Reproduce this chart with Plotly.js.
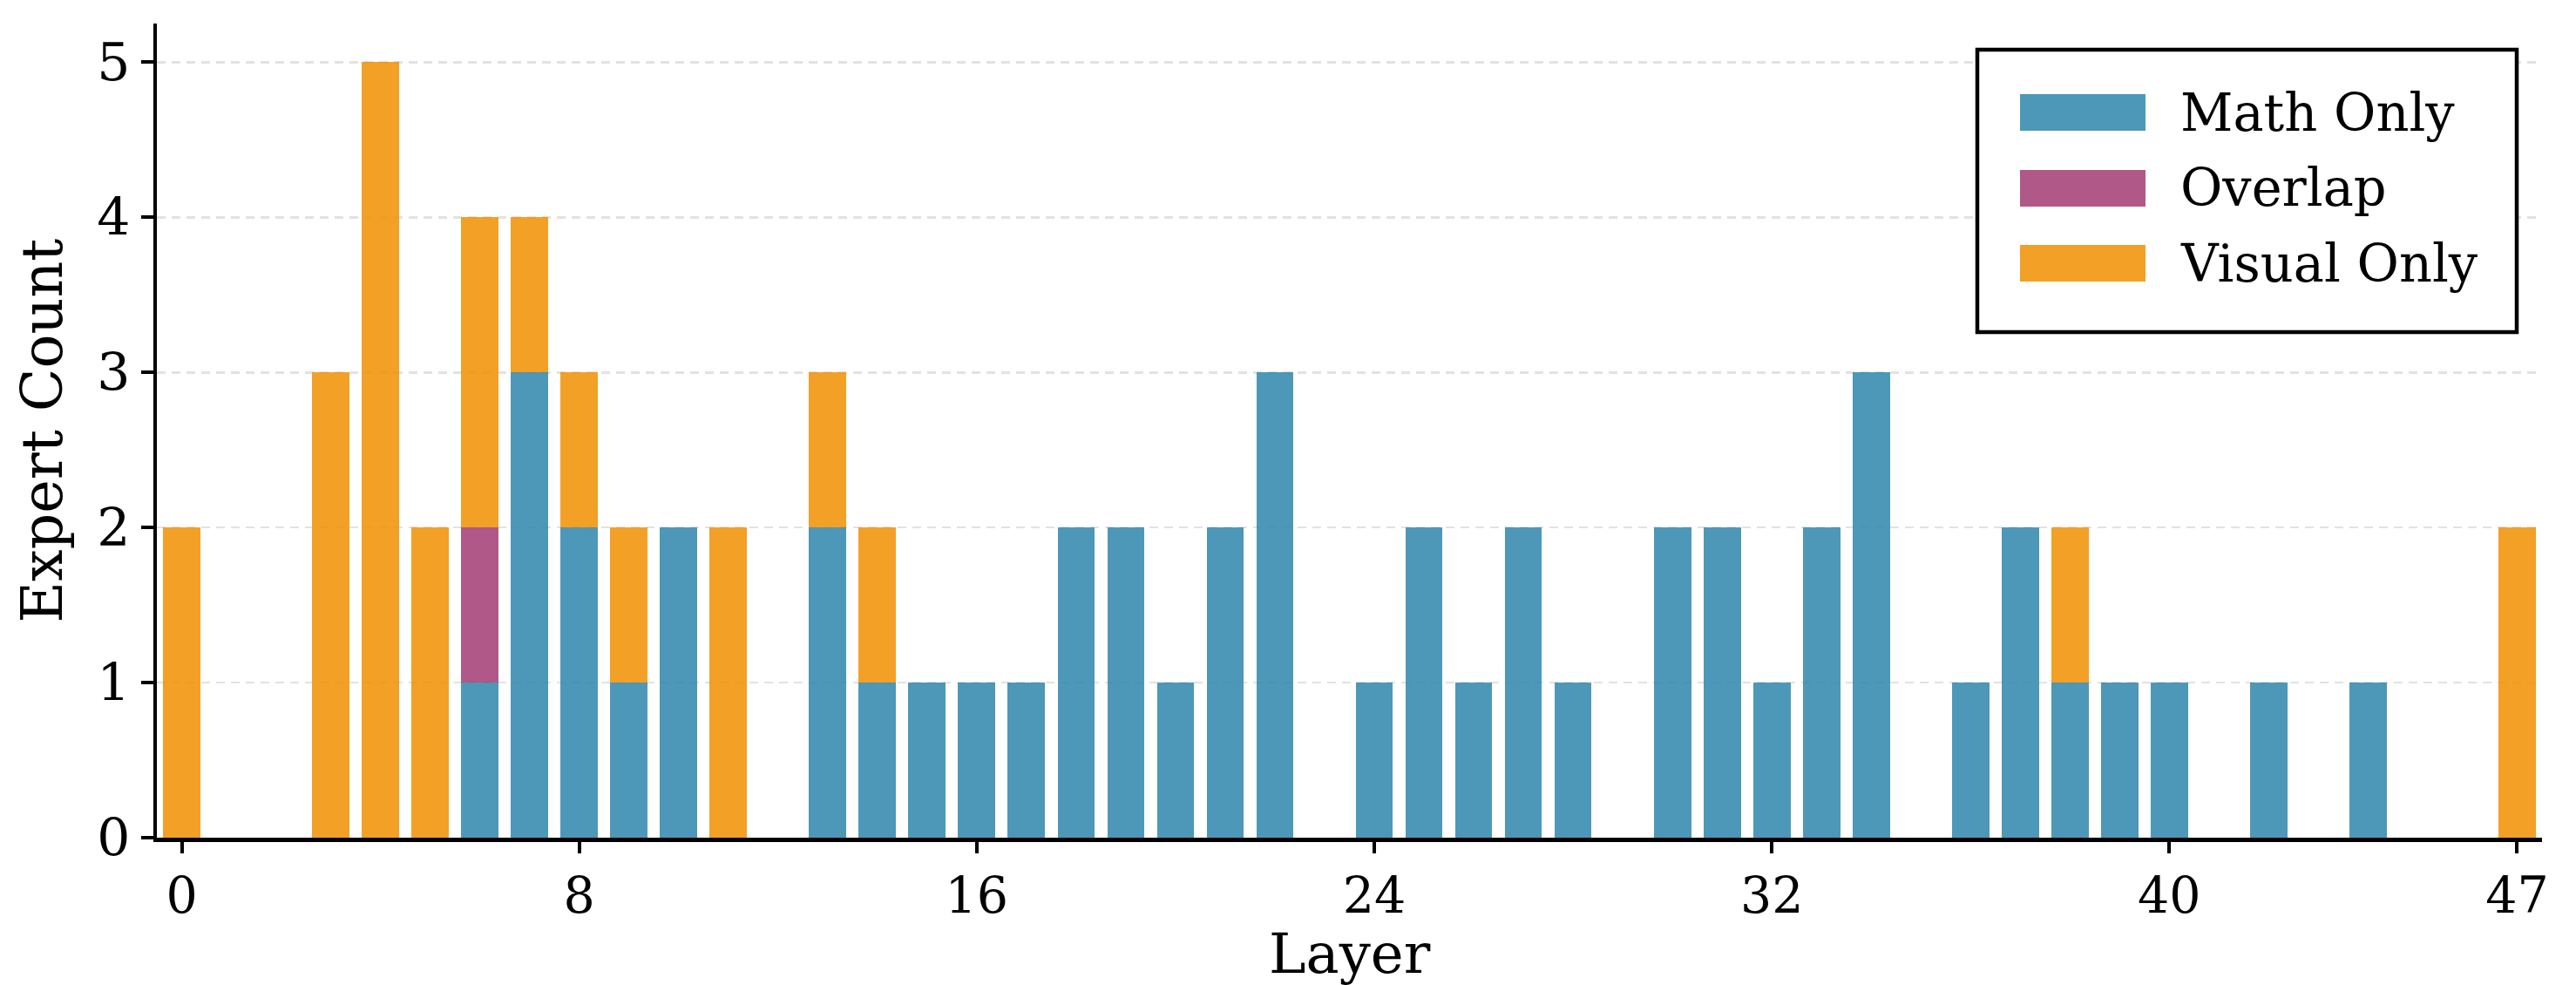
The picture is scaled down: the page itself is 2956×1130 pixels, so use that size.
<!DOCTYPE html>
<html>
<head>
<meta charset="utf-8">
<script src="https://cdn.plot.ly/plotly-3.0.1.min.js"></script>
<style>
  html, body { margin: 0; padding: 0; background: #ffffff; }
  #chart { width: 2956px; height: 1130px; }
</style>
</head>
<body>
<div id="chart"></div>
<script>
// Expert counts per layer (layers 0..47), split by specialisation
const layers = Array.from({length: 48}, (_, i) => i);

const mathOnly = [
  0, 0, 0, 0, 0, 0, 1, 3, 2, 1, 2, 0,
  0, 2, 1, 1, 1, 1, 2, 2, 1, 2, 3, 0,
  1, 2, 1, 2, 1, 0, 2, 2, 1, 2, 3, 0,
  1, 2, 1, 1, 1, 0, 1, 0, 1, 0, 0, 0
];

const overlap = [
  0, 0, 0, 0, 0, 0, 1, 0, 0, 0, 0, 0,
  0, 0, 0, 0, 0, 0, 0, 0, 0, 0, 0, 0,
  0, 0, 0, 0, 0, 0, 0, 0, 0, 0, 0, 0,
  0, 0, 0, 0, 0, 0, 0, 0, 0, 0, 0, 0
];

const visualOnly = [
  2, 0, 0, 3, 5, 2, 2, 1, 1, 1, 0, 2,
  0, 1, 1, 0, 0, 0, 0, 0, 0, 0, 0, 0,
  0, 0, 0, 0, 0, 0, 0, 0, 0, 0, 0, 0,
  0, 0, 1, 0, 0, 0, 0, 0, 0, 0, 0, 2
];

const seriesNames = ['Math Only', 'Overlap', 'Visual Only'];
const seriesColors = ['rgba(46,134,171,0.85)', 'rgba(162,59,114,0.85)', 'rgba(241,143,1,0.85)'];
const xTickVals = [0, 8, 16, 24, 32, 40, 47];
const yTickVals = [0, 1, 2, 3, 4, 5];
const xTitle = 'Layer';
const yTitle = 'Expert Count';

const FONT = 'DejaVu Serif, Liberation Serif, serif';
const W = 2956, H = 1130;
const M = {l: 180, r: 39, t: 27, b: 169};

// pixel -> paper coordinate helpers for the hand-built legend and x title
const px2x = p => (p - M.l) / (W - M.l - M.r);
const py2y = p => (H - M.b - p) / (H - M.t - M.b);

const seriesValues = [mathOnly, overlap, visualOnly];
const traces = seriesValues.map((vals, i) => ({
  type: 'bar',
  name: seriesNames[i],
  x: layers,
  y: vals,
  marker: {color: seriesColors[i], line: {width: 0}},
  showlegend: false,
  hoverinfo: 'x+y+name'
}));

// legend frame, swatches and labels
const legendBox = {x0: 2269, x1: 2888, y0: 57, y1: 381};
const swatchX = [2318, 2462];
const rowTop = [108, 195, 281];
const swatchH = 42;
const textX = 2500;

const shapes = [{
  type: 'rect', xref: 'paper', yref: 'paper', layer: 'above',
  x0: px2x(legendBox.x0), x1: px2x(legendBox.x1),
  y0: py2y(legendBox.y1), y1: py2y(legendBox.y0),
  fillcolor: '#ffffff', line: {color: '#000000', width: 4.5}
}];
const annotations = [];
seriesNames.forEach((name, i) => {
  shapes.push({
    type: 'rect', xref: 'paper', yref: 'paper', layer: 'above',
    x0: px2x(swatchX[0]), x1: px2x(swatchX[1]),
    y0: py2y(rowTop[i] + swatchH), y1: py2y(rowTop[i]),
    fillcolor: seriesColors[i], line: {width: 0}
  });
  annotations.push({
    xref: 'paper', yref: 'paper',
    x: px2x(textX), y: py2y(rowTop[i] + swatchH / 2),
    xanchor: 'left', yanchor: 'middle', showarrow: false,
    text: name, font: {family: FONT, size: 59, color: '#000000'}
  });
});

// x-axis title placed under the tick labels
annotations.push({
  xref: 'paper', yref: 'paper',
  x: 0.5, y: py2y(1094),
  xanchor: 'center', yanchor: 'middle', showarrow: false,
  text: xTitle, font: {family: FONT, size: 64, color: '#000000'}
});

const layout = {
  width: W, height: H,
  margin: M,
  paper_bgcolor: '#ffffff',
  plot_bgcolor: '#ffffff',
  barmode: 'stack',
  bargap: 0.25,
  font: {family: FONT, color: '#000000'},
  xaxis: {
    range: [-0.5, 47.5],
    tickvals: xTickVals,
    ticktext: xTickVals.map(String),
    ticks: 'outside', ticklen: 13, tickwidth: 4, tickcolor: '#000000',
    tickfont: {family: FONT, size: 57, color: '#000000'},
    showline: true, linecolor: '#000000', linewidth: 4.5, mirror: false,
    showgrid: false, zeroline: false
  },
  yaxis: {
    range: [0, 5.25],
    tickvals: yTickVals,
    ticks: 'outside', ticklen: 14, tickwidth: 4, tickcolor: '#000000',
    tickfont: {family: FONT, size: 60, color: '#000000'},
    showline: true, linecolor: '#000000', linewidth: 4.5, mirror: false,
    showgrid: true, gridcolor: '#e2e2e2', gridwidth: 2.5, griddash: '10px,7px',
    zeroline: false,
    title: {text: yTitle, font: {family: FONT, size: 65, color: '#000000'}, standoff: 20}
  },
  shapes: shapes,
  annotations: annotations
};

Plotly.newPlot('chart', traces, layout, {staticPlot: true, displayModeBar: false});
</script>
</body>
</html>
